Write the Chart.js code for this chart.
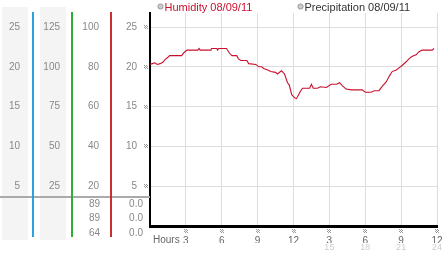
<!DOCTYPE html>
<html><head><meta charset="utf-8">
<script src="https://cdn.jsdelivr.net/npm/chart.js@4/dist/chart.umd.min.js"></script>
<style>html,body{margin:0;padding:0;background:#fff;overflow:hidden}canvas{display:block}</style>
</head><body>
<canvas id="c" width="442" height="253"></canvas>
<script>
// ---- data ----
const hours = [0,0.2,0.4,0.6,0.85,1.1,1.25,1.5,1.65,2.65,2.85,3.1,4.0,4.1,4.2,5.1,5.15,5.6,5.65,5.75,6.4,6.65,6.85,7.25,7.4,7.6,8.1,8.25,8.85,9.1,9.35,9.5,9.85,10.1,10.5,10.65,11.0,11.25,11.5,11.65,11.85,12.1,12.25,12.5,12.75,13.35,13.5,13.65,14.0,14.25,14.75,15.15,15.6,15.85,16.1,16.4,16.85,17.75,18.0,18.5,18.75,19.15,19.4,19.75,20.0,20.25,20.6,20.85,21.1,21.4,21.65,21.9,22.25,22.5,22.75,23.6,23.75];
const humidity = [20.3,20.4,20.5,20.3,20.4,20.6,20.9,21.2,21.4,21.4,21.8,22.1,22.1,22.3,22.1,22.1,22.3,22.3,22.1,22.3,22.3,21.7,21.4,21.4,21.0,20.8,20.8,20.4,20.3,20.0,20.0,19.8,19.6,19.4,19.3,19.1,19.5,19.1,18.0,17.7,16.5,16.1,16.0,16.7,17.3,17.3,17.8,17.3,17.3,17.5,17.4,17.8,17.8,18.0,17.6,17.2,17.1,17.1,16.8,16.8,17.0,17.0,17.5,18.1,18.8,19.4,19.6,19.9,20.2,20.6,21.0,21.3,21.5,21.9,22.1,22.1,22.3];
const precipitation = [];
const legendLabels = ['Humidity 08/09/11', 'Precipitation 08/09/11'];
const ticksColA = [5,10,15,20,25];
const ticksColB = [25,50,75,100,125];
const ticksColC = [20,40,60,80,100];
const ticksMain = [5,10,15,20,25];
const hourTicks = [3,6,9,12,15,18,21,24];
const hourLabels = ['3','6','9','12','3','6','9','12'];
const hour24Ticks = [15,18,21,24];
const hour24Labels = ['15','18','21','24'];
const humidityStats = ['89','89','64'];
const precipStats = ['0.0','0.0','0.0'];
const Y_MAX = 26.76;

const FONT = 'Liberation Sans';
const tickFont = {family: FONT, size: 10};

function marker(ctx, x, y) {
  ctx.fillStyle = '#999';
  for (let i = 0; i < 4; i++) for (let j = 0; j < 4; j++)
    if ((i + j) % 2 === 0) ctx.fillRect(x + i, y + j, 1, 1);
}

const decor = {
  id: 'decor',
  beforeDraw(chart) {
    const ctx = chart.ctx, s = chart.scales;
    ctx.save();
    ctx.fillStyle = '#f4f4f4';
    ctx.fillRect(s.yA.left + 2, 7, s.yA.right - s.yA.left - 7, 233);
    ctx.fillRect(s.yB.left + 7, 7, s.yB.right - s.yB.left - 13, 233);
    ctx.restore();
  },
  afterDraw(chart) {
    const ctx = chart.ctx, s = chart.scales, a = chart.chartArea;
    ctx.save();
    // gray separator
    ctx.fillStyle = '#aaa';
    ctx.fillRect(0, 196, a.left, 2);
    // colored column lines
    [[s.yA, '#2ba2dc'], [s.yB, '#2fae36'], [s.yC, '#c83030']].forEach(([sc, col]) => {
      ctx.fillStyle = col;
      ctx.fillRect(Math.round(sc.right) - 1, 12, 2, 225);
    });
    // lower rows
    ctx.font = '10px "' + FONT + '"';
    ctx.fillStyle = '#888';
    ctx.textAlign = 'right';
    ctx.textBaseline = 'middle';
    const rows = [204, 218.5, 233];
    humidityStats.forEach((t, i) => ctx.fillText(t, s.yC.right - 11, rows[i]));
    precipStats.forEach((t, i) => ctx.fillText(t, s.y.right - 7, rows[i]));
    // markers
    s.y.ticks.forEach(t => marker(ctx, a.left - 6, Math.round(s.y.getPixelForValue(t.value)) - 2));
    s.x.ticks.forEach(t => marker(ctx, Math.round(s.x.getPixelForValue(t.value)) - 2, 229));
    // Hours label
    ctx.textAlign = 'left';
    ctx.textBaseline = 'alphabetic';
    ctx.fillStyle = '#666';
    ctx.fillText('Hours', a.left + 3, 243);
    // legend
    ctx.font = '11px "' + FONT + '"';
    const leg = [[160.5, '#c8102e'], [300.5, '#333']];
    leg.forEach(([cx, col], i) => {
      ctx.beginPath();
      ctx.arc(cx, 6.5, 2.6, 0, Math.PI * 2);
      ctx.fillStyle = '#ccc';
      ctx.fill();
      ctx.strokeStyle = '#999';
      ctx.lineWidth = 1;
      ctx.stroke();
      ctx.fillStyle = col;
      ctx.fillText(legendLabels[i], cx + 4, 11);
    });
    ctx.restore();
  }
};

function yAxis(weight, max, ticks, width, padding, extra) {
  return Object.assign({
    type: 'linear', position: 'left', weight, min: 0, max,
    afterBuildTicks: sc => { sc.ticks = ticks.map(v => ({value: v})); },
    afterFit: sc => { sc.width = width; sc.paddingTop = 0; sc.paddingBottom = 0; },
    ticks: {color: '#888', font: tickFont, padding, autoSkip: false},
    grid: {display: false, drawTicks: false},
    border: {display: false}
  }, extra || {});
}

new Chart(document.getElementById('c'), {
  type: 'line',
  data: {
    datasets: [
      {label: legendLabels[0], data: hours.map((h, i) => ({x: h, y: humidity[i]})),
       borderColor: '#c8102e', borderWidth: 1.1, pointRadius: 0, tension: 0, fill: false,
       xAxisID: 'x', yAxisID: 'y'},
      {label: legendLabels[1], data: precipitation, borderColor: '#666', pointRadius: 0,
       xAxisID: 'x', yAxisID: 'y'}
    ]
  },
  options: {
    responsive: false,
    animation: false,
    layout: {padding: {top: 13, right: 5, left: 0, bottom: 0}},
    plugins: {legend: {display: false}, tooltip: {enabled: false}},
    scales: {
      x: {
        type: 'linear', position: 'bottom', weight: 0, min: 0, max: 24,
        afterBuildTicks: sc => { sc.ticks = hourTicks.map(v => ({value: v})); },
        afterFit: sc => { sc.height = 17; sc.paddingLeft = 0; sc.paddingRight = 0; },
        ticks: {callback: (v, i) => hourLabels[i], color: '#666', font: tickFont, padding: 9, maxRotation: 0, autoSkip: false},
        grid: {color: '#ddd', drawTicks: false},
        border: {color: '#000', width: 3}
      },
      x2: {
        type: 'linear', position: 'bottom', weight: 1, min: 0, max: 24,
        afterBuildTicks: sc => { sc.ticks = hour24Ticks.map(v => ({value: v})); },
        afterFit: sc => { sc.height = 10; sc.paddingLeft = 0; sc.paddingRight = 0; },
        ticks: {callback: (v, i) => hour24Labels[i], color: '#ccc', font: {family: FONT, size: 9}, padding: -1, maxRotation: 0, autoSkip: false},
        grid: {display: false, drawTicks: false},
        border: {display: false}
      },
      y: yAxis(0, Y_MAX, ticksMain, 39, 13, {
        grid: {color: '#ddd', drawTicks: false},
        border: {color: '#000', width: 2}
      }),
      yC: yAxis(1, Y_MAX * 4, ticksColC, 39, 12),
      yB: yAxis(2, Y_MAX * 5, ticksColB, 39, 12),
      yA: yAxis(3, Y_MAX, ticksColA, 33, 13)
    }
  },
  plugins: [decor]
});
</script>
</body></html>
